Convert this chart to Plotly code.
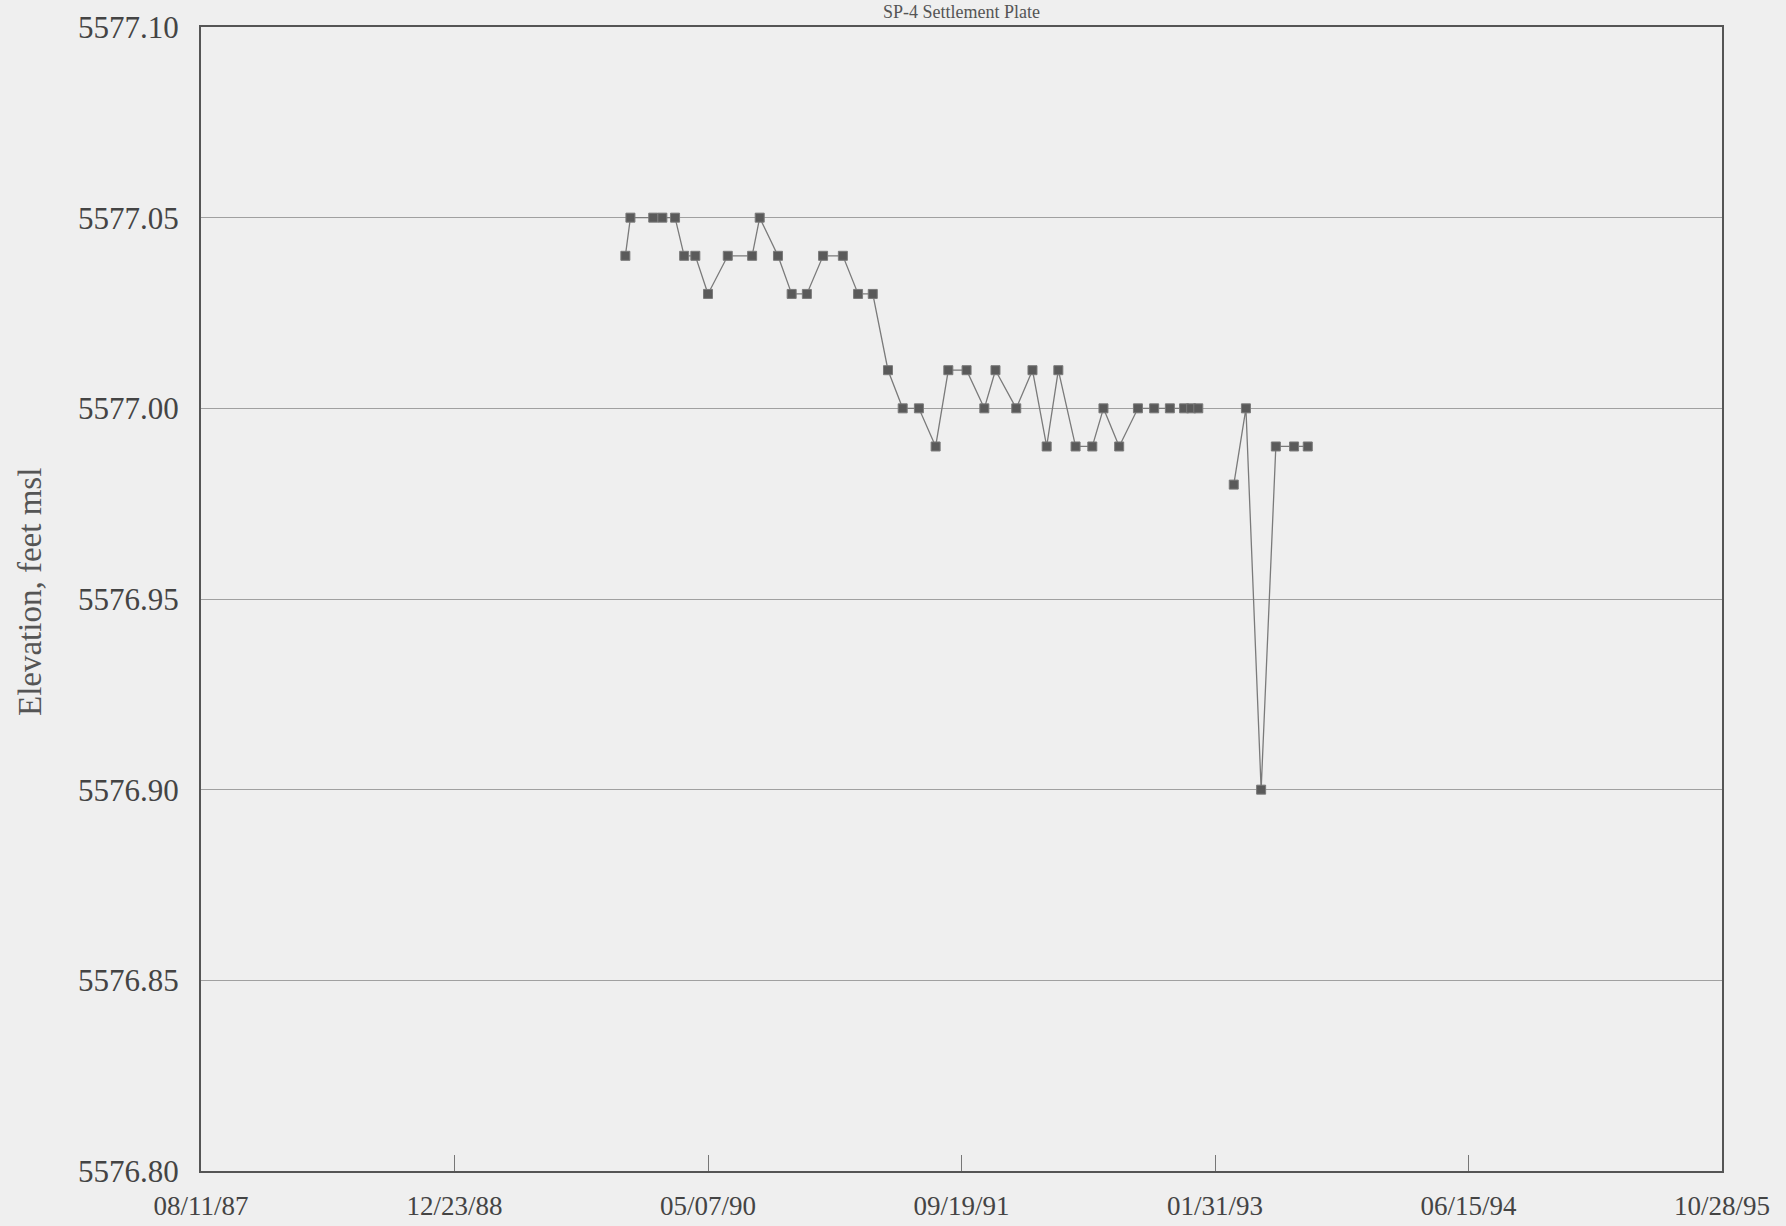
import plotly.graph_objects as go

# Survey dates and elevations (feet msl)
dates = [
    "1989-11-25", "1989-12-05", "1990-01-19", "1990-02-06", "1990-03-03",
    "1990-03-21", "1990-04-12", "1990-05-07", "1990-06-15", "1990-08-02",
    "1990-08-17", "1990-09-22", "1990-10-19", "1990-11-18", "1990-12-20",
    "1991-01-28", "1991-02-27", "1991-03-28", "1991-04-27", "1991-05-26",
    "1991-06-27", "1991-07-30", "1991-08-24", "1991-09-29", "1991-11-03",
    "1991-11-25", "1992-01-05", "1992-02-06", "1992-03-05", "1992-03-28",
    "1992-05-01", "1992-06-03", "1992-06-25", "1992-07-26", "1992-09-01",
    "1992-10-03", "1992-11-03", "1992-12-01", "1992-12-15", "1992-12-29",
    "1993-02-01",
    "1993-03-09", "1993-04-02", "1993-05-02", "1993-05-31", "1993-07-06",
    "1993-08-02",
]
elevation = [
    5577.04, 5577.05, 5577.05, 5577.05, 5577.05,
    5577.04, 5577.04, 5577.03, 5577.04, 5577.04,
    5577.05, 5577.04, 5577.03, 5577.03, 5577.04,
    5577.04, 5577.03, 5577.03, 5577.01, 5577.00,
    5577.00, 5576.99, 5577.01, 5577.01, 5577.00,
    5577.01, 5577.00, 5577.01, 5576.99, 5577.01,
    5576.99, 5576.99, 5577.00, 5576.99, 5577.00,
    5577.00, 5577.00, 5577.00, 5577.00, 5577.00,
    None,
    5576.98, 5577.00, 5576.90, 5576.99, 5576.99,
    5576.99,
]

tick_dates = ["1987-08-11", "1988-12-23", "1990-05-07", "1991-09-19",
              "1993-01-31", "1994-06-15", "1995-10-28"]
tick_labels = ["08/11/87", "12/23/88", "05/07/90", "09/19/91",
               "01/31/93", "06/15/94", "10/28/95"]
y_ticks = [5576.80, 5576.85, 5576.90, 5576.95, 5577.00, 5577.05, 5577.10]

FONT = "Liberation Serif"
BG = "#efefef"

fig = go.Figure()
fig.add_trace(go.Scatter(
    x=dates, y=elevation, mode="lines+markers",
    connectgaps=False,
    line=dict(color="#7a7a7a", width=1.3),
    marker=dict(symbol="square", size=9, color="#5a5a5a",
                line=dict(color="#7a7a7a", width=1)),
    showlegend=False,
))

fig.update_layout(
    width=1786, height=1226,
    paper_bgcolor=BG, plot_bgcolor=BG,
    margin=dict(l=201, r=64, t=27, b=55),
    font=dict(family=FONT, size=20, color="#444444"),
    annotations=[
        dict(text="SP-4 Settlement Plate", xref="paper", yref="paper",
             x=0.5, y=1, yshift=3, xanchor="center", yanchor="bottom",
             showarrow=False, font=dict(family=FONT, size=18, color="#555555")),
        dict(text="Elevation, feet msl", xref="paper", yref="paper",
             x=0, xshift=-171, y=0.5, yshift=7, textangle=-90,
             xanchor="center", yanchor="middle", showarrow=False,
             font=dict(family=FONT, size=33, color="#555555")),
    ],
)

fig.update_xaxes(
    type="date", range=["1987-08-11", "1995-10-28"],
    tickvals=tick_dates, ticktext=tick_labels,
    showgrid=False, zeroline=False, automargin=False,
    showline=True, mirror=True, linecolor="#555555", linewidth=2,
    ticks="inside", ticklen=16, tickwidth=1, tickcolor="#777777",
    tickfont=dict(family=FONT, size=27, color="#444444"),
    ticklabelstandoff=10,
)
fig.update_yaxes(
    range=[5576.80, 5577.10], tickvals=y_ticks,
    tickformat=".2f", automargin=False,
    showgrid=True, gridcolor="#a0a0a0", gridwidth=1, zeroline=False,
    showline=True, mirror=True, linecolor="#555555", linewidth=2,
    ticks="", tickfont=dict(family=FONT, size=31, color="#444444"),
    ticklabelstandoff=14,
)

fig.write_html("out.html", config={"displayModeBar": False},
               post_script="document.body.style.margin='0';")
